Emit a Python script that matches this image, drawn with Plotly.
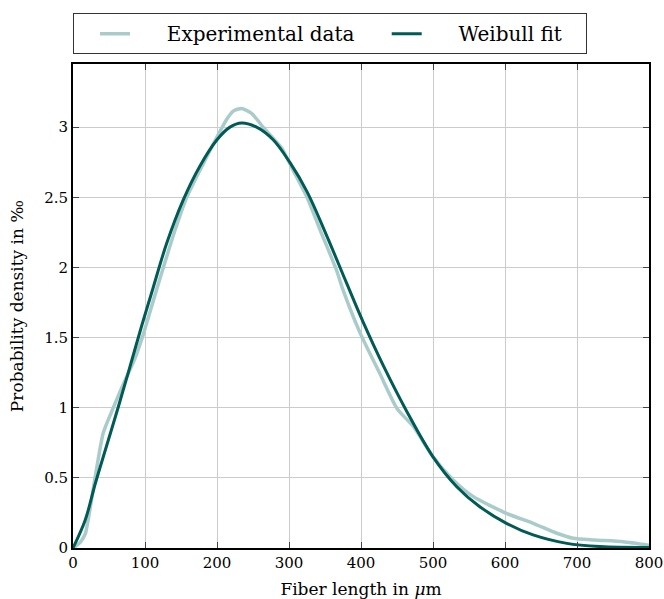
import plotly.graph_objects as go

exp_x = [0, 10, 17, 30, 42, 56, 70, 86, 98, 116, 142, 158, 181, 200, 214, 223, 234, 248, 264, 278, 290,
         306, 325, 343, 366, 375, 399, 426, 450, 473, 500, 528, 556, 602, 639, 672, 695, 723, 764, 800]
exp_y = [0, 0.04, 0.1, 0.48, 0.82, 1.0, 1.17, 1.35, 1.53, 1.84, 2.27, 2.5, 2.74, 2.93, 3.06, 3.116, 3.133,
         3.098, 3.0, 2.92, 2.85, 2.69, 2.5, 2.27, 1.98, 1.84, 1.53, 1.245, 0.995, 0.864, 0.65, 0.485, 0.366,
         0.247, 0.176, 0.105, 0.069, 0.057, 0.045, 0.02]

# Weibull fit
fit_x = [0, 17, 31, 47, 63, 79, 95, 111, 130, 153, 176, 200, 218, 234, 255, 278, 301, 325, 352, 379,
         403, 431, 464, 500, 533, 565, 602, 639, 686, 732, 800]
fit_y = [0, 0.2, 0.46, 0.734, 1.007, 1.29, 1.577, 1.85, 2.17, 2.48, 2.72, 2.91, 3.0, 3.03, 3.0, 2.91,
         2.75, 2.54, 2.23, 1.90, 1.61, 1.30, 0.97, 0.65, 0.437, 0.294, 0.176, 0.093, 0.033, 0.01, 0.003]

x_ticks = [0, 100, 200, 300, 400, 500, 600, 700, 800]
y_ticks = [0, 0.5, 1, 1.5, 2, 2.5, 3]

FONT = "DejaVu Serif"
NB = "\u00a0"

fig = go.Figure()
fig.add_trace(go.Scatter(x=exp_x, y=exp_y, mode="lines",
                         name=NB * 5 + "Experimental data" + NB * 1,
                         line=dict(color="#a9cccb", width=3.5, shape="spline", smoothing=0.6)))
fig.add_trace(go.Scatter(x=fit_x, y=fit_y, mode="lines",
                         name=NB * 5 + "Weibull fit" + NB * 3,
                         line=dict(color="#005a55", width=3, shape="spline", smoothing=1.0)))

axis_common = dict(showline=True, linecolor="black", linewidth=2, mirror="ticks",
                   ticks="inside", ticklen=6, tickwidth=1, tickcolor="#444",
                   showgrid=True, gridcolor="#cccccc", gridwidth=1, zeroline=False,
                   automargin=False,
                   tickfont=dict(family=FONT, size=15, color="black"))

fig.update_xaxes(range=[0, 800], tickvals=x_ticks, ticktext=[str(v) for v in x_ticks],
                 title=dict(text="Fiber length in <i>μ</i>m", font=dict(family=FONT, size=17, color="black"),
                            standoff=12),
                 **axis_common)
fig.update_yaxes(range=[0, 3.45], tickvals=y_ticks, ticktext=[f"{v:g}" for v in y_ticks],
                 title=dict(text="Probability density in ‰", font=dict(family=FONT, size=17, color="black"),
                            standoff=16),
                 **axis_common)

fig.update_layout(
    width=664, height=599,
    margin=dict(l=73, r=15, t=64, b=51, autoexpand=False),
    paper_bgcolor="white", plot_bgcolor="white",
    font=dict(family=FONT, color="black"),
    showlegend=True,
    legend=dict(orientation="h", x=0, xanchor="left", y=1.105, yanchor="top",
                bordercolor="#333", borderwidth=1, bgcolor="white",
                font=dict(family=FONT, size=20, color="black"),
                indentation=21, tracegroupgap=0),
)

fig.write_html("out.html", config={"displayModeBar": False},
               post_script="document.body.style.margin='0';")
